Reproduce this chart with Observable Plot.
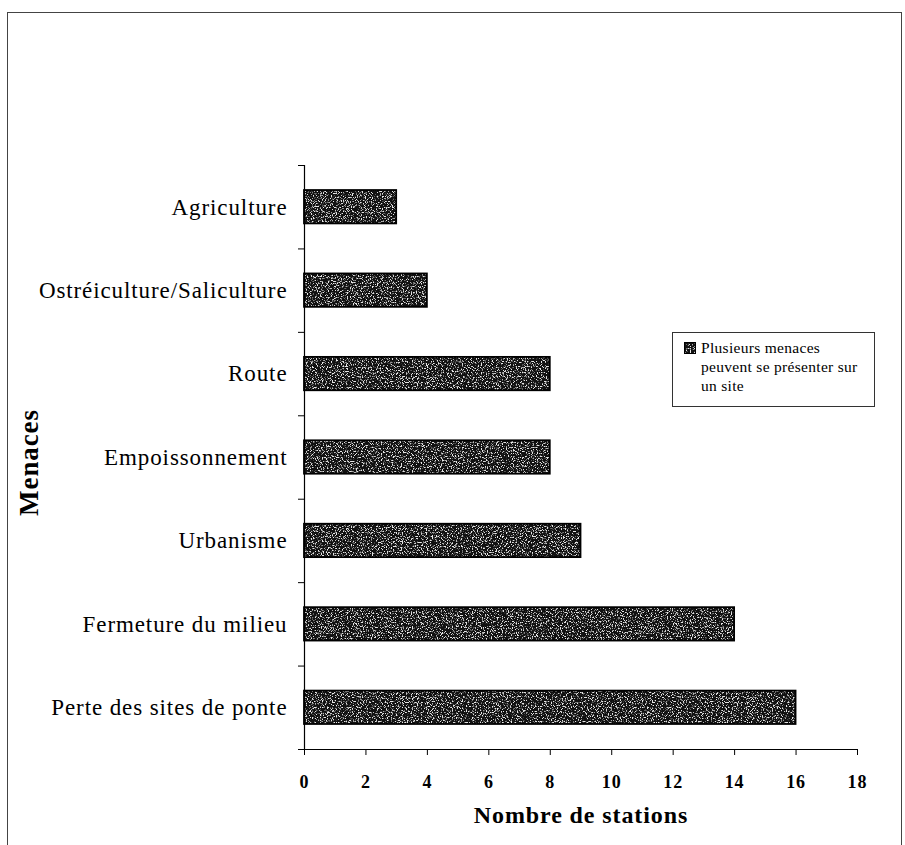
<!DOCTYPE html>
<html>
<head>
<meta charset="utf-8">
<script src="https://cdn.jsdelivr.net/npm/d3@7"></script>
<script src="https://cdn.jsdelivr.net/npm/@observablehq/plot@0.6"></script>
<style>
  html, body { margin: 0; padding: 0; background: #fff; width: 905px; height: 845px; overflow: hidden; }
  #frame { position: absolute; left: 7px; top: 12px; width: 895px; height: 845px; border: 1px solid #444; box-sizing: border-box; }
  #chart { position: absolute; left: 0; top: 0; }
  #legend { position: absolute; left: 672px; top: 332px; width: 203px; height: 75px; border: 1px solid #333; box-sizing: border-box;
            font-family: "Liberation Serif", "Times New Roman", serif; font-size: 15.5px; line-height: 19px; color: #000;
            padding: 5px 0 0 28px; letter-spacing: 0.3px; background: #fff; }
  #legend svg { position: absolute; left: 11px; top: 9px; }
</style>
</head>
<body>
<div id="frame"></div>
<div id="chart"></div>
<div id="legend"></div>
<script>
const categories = ["Agriculture", "Ostréiculture/Saliculture", "Route", "Empoissonnement", "Urbanisme", "Fermeture du milieu", "Perte des sites de ponte"];
const stations = [3, 4, 8, 8, 9, 14, 16];
const xTicks = [0, 2, 4, 6, 8, 10, 12, 14, 16, 18];
const xLabel = "Nombre de stations";
const yLabel = "Menaces";
const legendLines = ["Plusieurs menaces", "peuvent se présenter sur", "un site"];

const n = categories.length;
const rows = categories.map((c, i) => ({category: c, value: stations[i], pos: n - 0.5 - i}));
const bandTicks = d3.range(n + 1);

const plot = Plot.plot({
  width: 905,
  height: 845,
  marginLeft: 304,
  marginRight: 48,
  marginTop: 165,
  marginBottom: 96,
  style: {fontFamily: "'Liberation Serif', 'Times New Roman', serif", color: "#000", background: "transparent"},
  x: {domain: [0, 18], axis: null},
  y: {domain: [0, n], axis: null},
  marks: [
    Plot.rect(rows, {x1: 0, x2: "value", y1: d => d.pos - 0.2, y2: d => d.pos + 0.2, fill: "#222", stroke: "#000", strokeWidth: 1.8}),
    Plot.ruleX([0], {stroke: "#000", strokeWidth: 1.2}),
    Plot.ruleY([0], {x1: 0, x2: 18, stroke: "#000", strokeWidth: 1.2}),
    Plot.axisY({ticks: bandTicks, tickSize: 6, tickFormat: () => "", label: null, stroke: "#000"}),
    Plot.axisX({ticks: xTicks, tickSize: 6, tickPadding: 20, fontSize: 18, fontWeight: "bold", label: null, stroke: "#000"}),
    Plot.text(rows, {x: 0, y: "pos", text: "category", textAnchor: "end", dx: -17, fontSize: 23, fill: "#000"}),
    Plot.text([xLabel], {frameAnchor: "bottom", textAnchor: "middle", lineAnchor: "middle", dy: 66, fontSize: 24, fontWeight: "bold", fill: "#000"}),
    Plot.text([yLabel], {frameAnchor: "left", textAnchor: "middle", lineAnchor: "middle", dx: -275, dy: 5, rotate: -90, fontSize: 27, fontWeight: "bold", fill: "#000"})
  ]
});

// speckled texture for the bars
const defs = `
<defs>
  <filter id="noise" x="0" y="0" width="100%" height="100%" color-interpolation-filters="sRGB">
    <feTurbulence type="fractalNoise" baseFrequency="0.8" numOctaves="2" seed="7" result="t"/>
    <feColorMatrix in="t" type="matrix" values="0 0 0 0 0.9  0 0 0 0 0.9  0 0 0 0 0.9  7 0 0 0 -3.7"/>
  </filter>
  <pattern id="speckle" patternUnits="userSpaceOnUse" x="0" y="0" width="905" height="845">
    <rect width="905" height="845" fill="#111"/>
    <rect width="905" height="845" fill="#fff" filter="url(#noise)"/>
  </pattern>
</defs>`;
plot.insertAdjacentHTML("afterbegin", defs);
d3.select(plot).selectAll("g[aria-label='rect']").attr("fill", "url(#speckle)");
d3.select(plot).selectAll("text").style("letter-spacing", "0.9px");
document.getElementById("chart").appendChild(plot);

// legend
const leg = document.getElementById("legend");
leg.innerHTML = `<svg width="12" height="12"><rect x="0.5" y="0.5" width="11" height="11" fill="url(#speckle)" stroke="#000"/></svg>` +
  legendLines.map(l => `<div>${l}</div>`).join("");
</script>
</body>
</html>
